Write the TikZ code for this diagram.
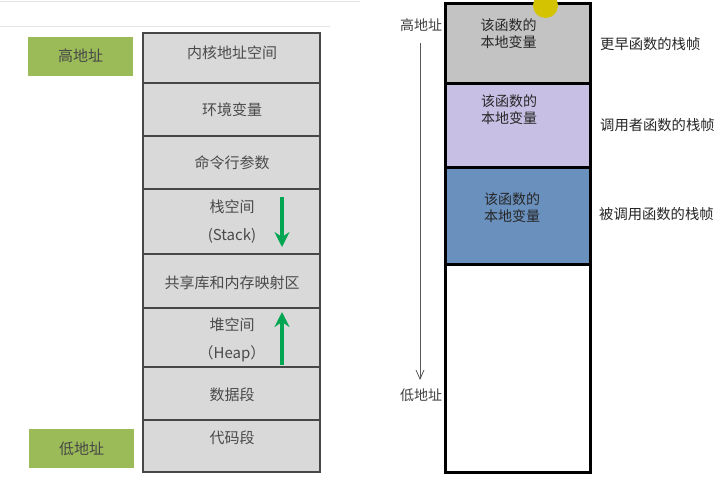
\documentclass[tikz,border=0pt]{standalone}
\usepackage{fontspec}
\setmainfont{Noto Sans CJK SC}
\usetikzlibrary{arrows.meta}
\definecolor{boxgray}{HTML}{D9D9D9}
\definecolor{olive}{HTML}{9BBB59}
\definecolor{arrowgreen}{HTML}{00A651}
\definecolor{framegray}{HTML}{C3C3C3}
\definecolor{lavender}{HTML}{C8C0E4}
\definecolor{steel}{HTML}{6A90BD}
\definecolor{txt}{HTML}{4A4A4A}
\definecolor{dotyellow}{HTML}{D4C300}
\begin{document}
\begin{tikzpicture}[x=1pt,y=-1pt,
  segbox/.style={draw=black!72,line width=1.3pt,fill=boxgray,minimum width=177pt,inner sep=0pt,outer sep=0pt,anchor=north west},
  segtext/.style={text=txt,font=\fontsize{15}{28}\selectfont,align=center,inner sep=0pt},
  addrbox/.style={fill=olive,minimum width=105pt,minimum height=39pt,inner sep=0pt,text=black!72,font=\fontsize{15}{16}\selectfont},
  growarrow/.style={draw=arrowgreen,line width=3.2pt,-{Stealth[length=15pt,width=15pt,inset=5pt]}},
  framebox/.style={draw=black,line width=3pt,minimum width=145pt,inner sep=0pt,outer sep=0pt,anchor=north west},
  sidelabel/.style={anchor=west,inner sep=0pt,font=\fontsize{14.3}{16}\selectfont,text=black!85},
  vartext/.style={align=center,inner sep=0pt,font=\fontsize{14}{17}\selectfont,text=black!85},
  addrtxt/.style={inner sep=0pt,font=\fontsize{14}{16}\selectfont,text=black!75}]
\useasboundingbox (0,0) rectangle (722,479);
\fill[white] (0,0) rectangle (722,479);
% thin top rules
\draw[black!10,line width=0.8pt] (0,1) -- (360,1);
\draw[black!10,line width=0.8pt] (0,26) -- (330,26);
% left memory layout
\node[segbox,minimum height=50pt] (kern) at (143,33) {};
\node[segbox,minimum height=53pt] (env) at (143,83) {};
\node[segbox,minimum height=53pt] (args) at (143,136) {};
\node[segbox,minimum height=65pt] (stack) at (143,189) {};
\node[segbox,minimum height=54pt] (shared) at (143,254) {};
\node[segbox,minimum height=59pt] (heap) at (143,308) {};
\node[segbox,minimum height=53pt] (data) at (143,367) {};
\node[segbox,minimum height=52pt] (code) at (143,420) {};
\node[segtext] (kernT) at (232,53) {内核地址空间};
\node[segtext] (envT) at (232,110) {环境变量};
\node[segtext] (argsT) at (232,163) {命令行参数};
\node[segtext] (stackT) at (232,221.5) {栈空间\\(Stack)};
\node[segtext] (sharedT) at (232,283) {共享库和内存映射区};
\node[segtext] (heapT) at (232,339.5) {堆空间\\（Heap）};
\node[segtext] (dataT) at (232,395) {数据段};
\node[segtext] (codeT) at (232,438) {代码段};
\node[addrbox] (high) at (80.5,56) {高地址};
\node[addrbox] (low) at (81.5,448.5) {低地址};
\coordinate (sdA) at (282,197);
\coordinate (sdB) at (282,247);
\coordinate (hpA) at (282,365);
\coordinate (hpB) at (282,312);
\draw[growarrow] (sdA) -- (sdB);
\draw[growarrow] (hpA) -- (hpB);
% right stack frames
\node[framebox,fill=white,minimum height=469pt] (whole) at (445,3) {};
\node[framebox,fill=framegray,minimum height=80pt] (f1) at (445,3) {};
\node[framebox,fill=lavender,minimum height=84pt] (f2) at (445,83) {};
\node[framebox,fill=steel,minimum height=97pt] (f3) at (445,167) {};
\draw[black,line width=3pt] (whole.north west) rectangle (whole.south east);
\begin{scope}
\clip (0,0) rectangle (722,479);
\node[circle,fill=dotyellow,minimum size=25pt,inner sep=0pt] (dot) at (545.5,5.5) {};
\end{scope}
\node[vartext] (t1) at (508.5,34) {该函数的\\本地变量};
\node[vartext] (t2) at (509,110) {该函数的\\本地变量};
\node[vartext] (t3) at (512,207.5) {该函数的\\本地变量};
\node[sidelabel] (l1) at (600,44) {更早函数的栈帧};
\node[sidelabel] (l2) at (600,125) {调用者函数的栈帧};
\node[sidelabel] (l3) at (599,214) {被调用函数的栈帧};
\node[addrtxt] (hi) at (421,25) {高地址};
\node[addrtxt] (lo) at (421,395) {低地址};
\coordinate (arA) at (420,43);
\coordinate (arB) at (420,380);
\draw[black!65,line width=0.8pt,-{Straight Barb[length=9pt,width=8pt]}] (arA) -- (arB);
\end{tikzpicture}
\end{document}
